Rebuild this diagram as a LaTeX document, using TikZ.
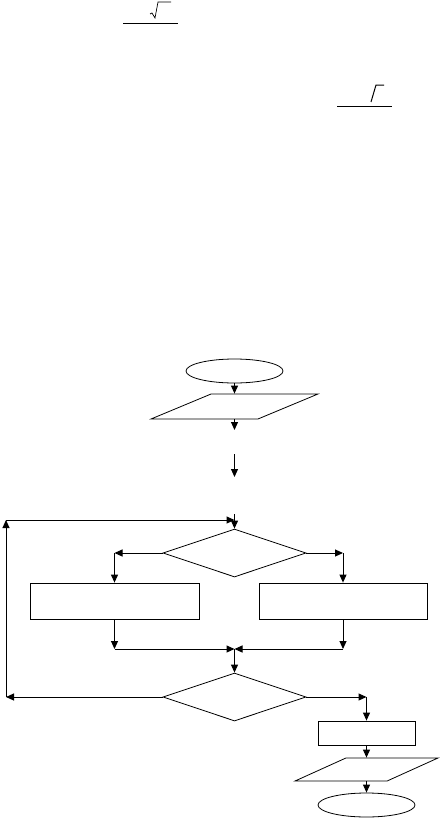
\documentclass[tikz,border=0pt]{standalone}
\usetikzlibrary{shapes.geometric,arrows.meta}
\begin{document}
\begin{tikzpicture}[x=1pt,y=-1pt, line width=1pt,
 arr/.style={-{Triangle[length=8pt,width=7pt]}},
 term/.style={draw, line width=0.8pt, ellipse, minimum width=97pt, minimum height=24pt, inner sep=0pt},
 io/.style={draw, line width=0.8pt, trapezium, trapezium stretches=true, inner sep=1pt},
 proc/.style={draw, line width=0.8pt, rectangle, inner sep=0pt},
 dec/.style={draw, line width=0.8pt, diamond, inner sep=0pt, minimum width=143pt, minimum height=48pt}]
\useasboundingbox (0,0) rectangle (440,819);
% top marks
\draw (123,23) -- (178,23);
\draw[line width=0.7pt] (150,14) -- (152,13) -- (155,18) -- (158,2) -- (171,2);
\draw (337,106) -- (392,106);
\draw (371,102) -- (376,85) -- (384,85);
% nodes
\node[term] (start) at (234.5,371) {};
\node[io, trapezium left angle=38, trapezium right angle=142, minimum width=167pt, minimum height=25pt] (in) at (234.5,406.5) {};
\coordinate (a1) at (234.5,430);
\coordinate (b1) at (234.5,454);
\coordinate (b2) at (234.5,477);
\coordinate (c1) at (234.5,514);
\node[dec] (d1) at (234.5,553) {};
\node[proc, minimum width=169pt, minimum height=36pt] (L) at (114.5,601) {};
\node[proc, minimum width=168pt, minimum height=36pt] (R) at (343,601) {};
\coordinate (m) at (234.5,649);
\node[dec] (d2) at (234.5,697) {};
\node[proc, minimum width=97pt, minimum height=24pt] (P) at (366.5,733) {};
\node[io, trapezium left angle=39, trapezium right angle=141, minimum width=143pt, minimum height=23pt] (out) at (366.5,769.5) {};
\node[term] (end) at (366.5,805) {};
\coordinate (lp) at (6,697);
\coordinate (lt) at (6,520);
\coordinate (top) at (234.5,520);
% connectors
\draw[arr] (start) -- (in);
\draw[arr] (in.south) -- (a1);
\draw[arr] (b1) -- (b2);
\draw[arr] (c1) -- (d1.north);
\draw[arr] (d1.west) -- (d1.west -| L);
\draw[arr] (d1.west -| L) -- (L.north);
\draw[arr] (d1.east) -- (d1.east -| R);
\draw[arr] (d1.east -| R) -- (R.north);
\draw[arr] (L.south) -- (L |- m);
\draw[arr] (L |- m) -- (m);
\draw[arr] (R.south) -- (R |- m);
\draw[arr] (R |- m) -- (m);
\draw[arr] (m) -- (d2.north);
\draw[arr] (d2.west) -- (lp);
\draw[arr] (lp) -- (lt);
\draw[arr] (lt) -- (top);
\draw[arr] (d2.east) -- (d2.east -| P);
\draw[arr] (d2.east -| P) -- (P.north);
\draw[arr] (P) -- (out);
\draw[arr] (out) -- (end);
\end{tikzpicture}
\end{document}
